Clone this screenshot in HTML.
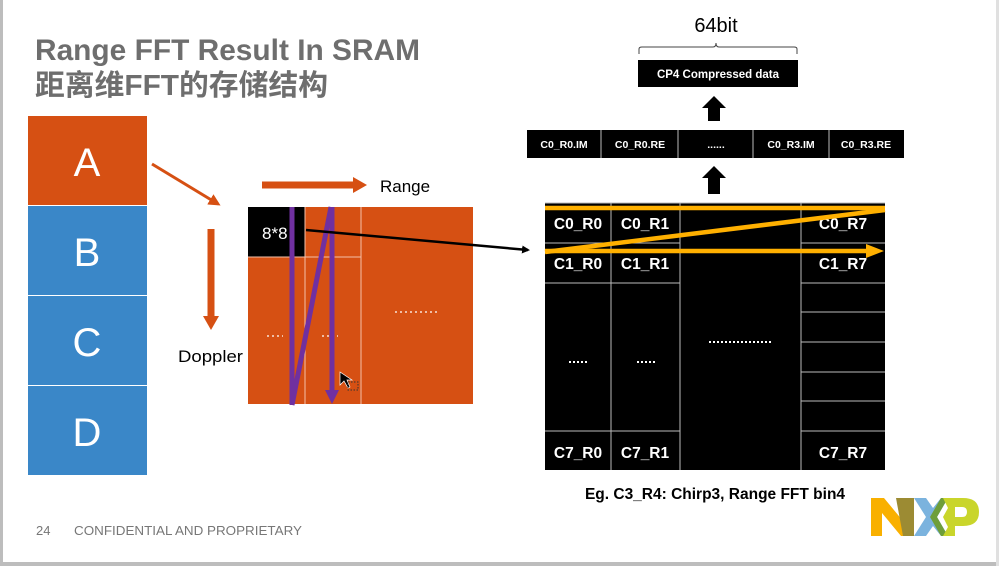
<!DOCTYPE html>
<html><head><meta charset="utf-8"><style>
html,body{margin:0;padding:0;background:#fff;}
svg{display:block;}
</style></head><body>
<svg width="999" height="566" viewBox="0 0 999 566" xmlns="http://www.w3.org/2000/svg" font-family="Liberation Sans, Arial, sans-serif">
<defs>
<marker id="ab" markerWidth="8" markerHeight="8" refX="6" refY="4" orient="auto" markerUnits="userSpaceOnUse"><path d="M0,0 L8,4 L0,8 z" fill="#000"/></marker>
<marker id="ao" markerWidth="12" markerHeight="12" refX="9" refY="6" orient="auto" markerUnits="userSpaceOnUse"><path d="M0,0 L12,6 L0,12 z" fill="#D65013"/></marker>
</defs>
<rect x="0" y="0" width="999" height="566" fill="#fff"/>
<rect x="0" y="0" width="3" height="566" fill="#bdbdbd"/>
<rect x="0" y="562" width="999" height="4" fill="#bdbdbd"/>
<rect x="996" y="0" width="3" height="566" fill="#e0e0e0"/>

<text x="35" y="60" font-size="30" font-weight="bold" fill="#6e6e6e" textLength="385" lengthAdjust="spacingAndGlyphs">Range FFT Result In SRAM</text>
<text x="35" y="95" font-size="29" font-weight="bold" fill="#6e6e6e" font-family="Liberation Sans, Noto Sans CJK SC, sans-serif" textLength="293" lengthAdjust="spacingAndGlyphs">距离维FFT的存储结构</text>

<rect x="28" y="116" width="119" height="89" fill="#D65013"/>
<rect x="28" y="206" width="119" height="89" fill="#3A87C8"/>
<rect x="28" y="296" width="119" height="89" fill="#3A87C8"/>
<rect x="28" y="386" width="119" height="89" fill="#3A87C8"/>
<g fill="#fff" font-size="40" text-anchor="middle">
<text x="87" y="176">A</text><text x="87" y="266">B</text><text x="87" y="356">C</text><text x="87" y="446">D</text>
</g>

<line x1="152" y1="164" x2="218" y2="204" stroke="#D65013" stroke-width="3" marker-end="url(#ao)"/>
<line x1="262" y1="185" x2="356" y2="185" stroke="#D65013" stroke-width="7"/>
<path d="M353,177 L367,185 L353,193z" fill="#D65013"/>
<text x="380" y="192" font-size="17" fill="#000">Range</text>
<line x1="211" y1="229" x2="211" y2="318" stroke="#D65013" stroke-width="7"/>
<path d="M203,316 L211,330 L219,316z" fill="#D65013"/>
<text x="178" y="362" font-size="17" fill="#000" textLength="65" lengthAdjust="spacingAndGlyphs">Doppler</text>

<rect x="248" y="207" width="225" height="197" fill="#D65013"/>
<rect x="248" y="207" width="57" height="50" fill="#000"/>
<line x1="305" y1="207" x2="305" y2="404" stroke="#f4c0a8" stroke-width="1"/>
<line x1="361" y1="207" x2="361" y2="404" stroke="#f4c0a8" stroke-width="1"/>
<line x1="248" y1="257" x2="361" y2="257" stroke="#f4c0a8" stroke-width="1"/>
<text x="262" y="239" font-size="17" fill="#fff">8*8</text>
<g stroke="#fff" stroke-width="1.3" stroke-dasharray="2,3">
<line x1="267" y1="336" x2="283" y2="336"/><line x1="322" y1="336" x2="338" y2="336"/><line x1="395" y1="312" x2="440" y2="312"/></g>
<g stroke="#7030A0" stroke-width="5" fill="none">
<line x1="292" y1="207" x2="292" y2="405"/>
<line x1="292" y1="405" x2="331" y2="207"/>
<line x1="332" y1="207" x2="332" y2="392"/>
</g>
<path d="M325,390 L332,404 L339,390z" fill="#7030A0"/>
<path d="M340,372 L340,385 L344,381 L348,388 L350,387 L347,380 L352,380z" fill="#000" stroke="#fff" stroke-width="0.7"/>
<rect x="348" y="382" width="10" height="8" fill="none" stroke="#333" stroke-dasharray="1.5,1.5"/>

<line x1="306" y1="230" x2="528" y2="250" stroke="#000" stroke-width="2.5" marker-end="url(#ab)"/>

<text x="716" y="32" font-size="20" fill="#000" text-anchor="middle">64bit</text>
<path d="M639,54 L639,49 Q639,47 642,47 L713,47 Q716,47 716,43 Q716,47 719,47 L794,47 Q797,47 797,49 L797,54" fill="none" stroke="#444" stroke-width="1"/>
<rect x="638" y="60" width="160" height="27" fill="#000"/>
<text x="718" y="78" font-size="11.5" font-weight="bold" fill="#fff" text-anchor="middle">CP4 Compressed data</text>
<path d="M714,96 L726,108 L720,108 L720,121 L708,121 L708,108 L702,108z" fill="#000"/>
<rect x="527" y="130" width="377" height="28" fill="#000"/>
<g stroke="#bbb" stroke-width="1"><line x1="601" y1="130" x2="601" y2="158"/><line x1="678" y1="130" x2="678" y2="158"/><line x1="753" y1="130" x2="753" y2="158"/><line x1="829" y1="130" x2="829" y2="158"/></g>
<g fill="#fff" font-size="10.5" font-weight="bold" text-anchor="middle">
<text x="564" y="148">C0_R0.IM</text><text x="640" y="148">C0_R0.RE</text><text x="716" y="148">......</text><text x="791" y="148">C0_R3.IM</text><text x="866" y="148">C0_R3.RE</text></g>
<path d="M714,166 L726,178 L720,178 L720,194 L708,194 L708,178 L702,178z" fill="#000"/>

<rect x="545" y="203" width="340" height="267" fill="#000"/>
<g stroke="#bbb" stroke-width="1">
<line x1="545" y1="203" x2="885" y2="203"/>
<line x1="611" y1="203" x2="611" y2="470"/>
<line x1="680" y1="203" x2="680" y2="470"/>
<line x1="801" y1="203" x2="801" y2="470"/>
<line x1="545" y1="243" x2="680" y2="243"/><line x1="801" y1="243" x2="885" y2="243"/>
<line x1="545" y1="283" x2="680" y2="283"/><line x1="801" y1="283" x2="885" y2="283"/>
<line x1="545" y1="431" x2="680" y2="431"/>
<line x1="801" y1="312" x2="885" y2="312"/><line x1="801" y1="342" x2="885" y2="342"/><line x1="801" y1="372" x2="885" y2="372"/><line x1="801" y1="401" x2="885" y2="401"/><line x1="801" y1="431" x2="885" y2="431"/>
</g>
<g fill="#fff" font-size="15.5" font-weight="bold" text-anchor="middle">
<text x="578" y="229">C0_R0</text><text x="645" y="229">C0_R1</text><text x="843" y="229">C0_R7</text>
<text x="578" y="269">C1_R0</text><text x="645" y="269">C1_R1</text><text x="843" y="269">C1_R7</text>
<text x="578" y="458">C7_R0</text><text x="645" y="458">C7_R1</text><text x="843" y="458">C7_R7</text>
</g>
<g stroke="#fff" stroke-width="2" stroke-dasharray="2,2">
<line x1="569" y1="362" x2="587" y2="362"/><line x1="637" y1="362" x2="655" y2="362"/><line x1="709" y1="342" x2="773" y2="342"/></g>
<g stroke="#FFB000" stroke-width="4.5" fill="none">
<line x1="545" y1="208" x2="885" y2="208"/>
<line x1="545" y1="252" x2="885" y2="210"/>
<line x1="545" y1="251" x2="870" y2="251"/>
</g>
<path d="M866,244 L884,251 L866,258z" fill="#FFB000"/>

<text x="715" y="499" font-size="15.5" font-weight="bold" fill="#000" text-anchor="middle">Eg. C3_R4: Chirp3, Range FFT bin4</text>

<text x="36" y="535" font-size="13" fill="#777">24</text>
<text x="74" y="535" font-size="13" fill="#777" textLength="228" lengthAdjust="spacingAndGlyphs">CONFIDENTIAL AND PROPRIETARY</text>

<path d="M871,498 L884,498 L903,521 L903,498 L914,498 L914,536 L901,536 L882,513 L882,536 L871,536z" fill="#F9B000"/>
<path d="M896,498 L914,498 L914,536 L903,536z" fill="#9C8B33"/>
<path d="M914,498 L926,498 L933,508 L941,498 L948,498 L937,517 L948,536 L941,536 L933,526 L926,536 L914,536 L926,517z" fill="#7BB3DE"/>
<path d="M941,498 L948,498 L937,517 L948,536 L941,536 L930,517z" fill="#6E9E3A"/>
<path d="M943,498 L963,498 Q979,498 979,512 Q979,526 963,526 L955,526 L955,536 L943,536 L948,527 L943,517 L948,508z M955,507 L955,517 L962,517 Q967,517 967,512 Q967,507 962,507z" fill="#C9D52B"/>
</svg>
</body></html>
